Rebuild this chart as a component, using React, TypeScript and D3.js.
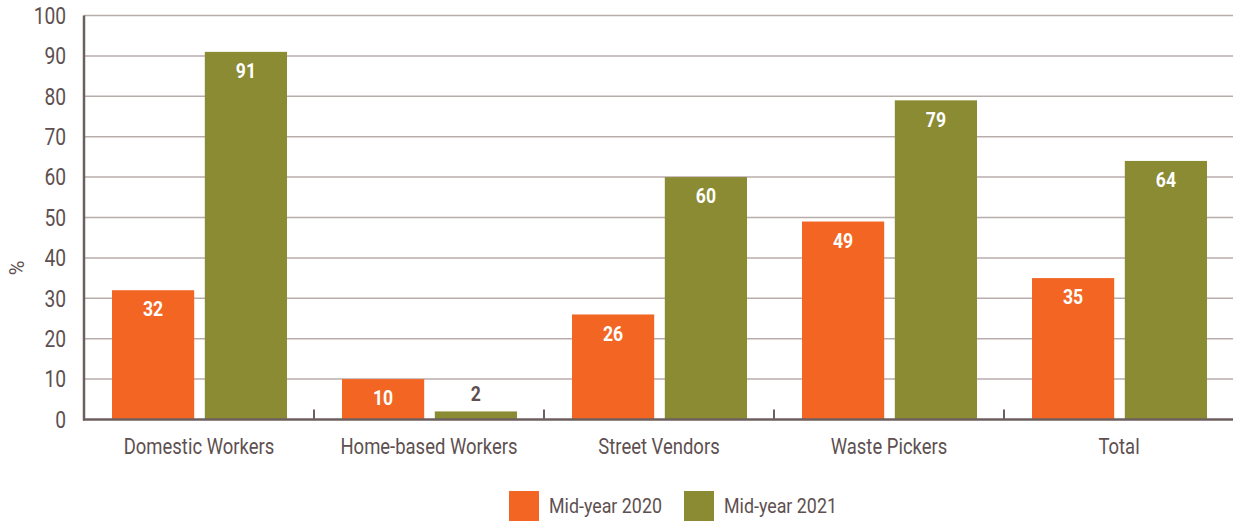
import * as d3 from "d3";

const categories = [
  "Domestic Workers",
  "Home-based Workers",
  "Street Vendors",
  "Waste Pickers",
  "Total",
];
const seriesNames = ["Mid-year 2020", "Mid-year 2021"];
const values2020 = [32, 10, 26, 49, 35];
const values2021 = [91, 2, 60, 79, 64];
const yTicks = [0, 10, 20, 30, 40, 50, 60, 70, 80, 90, 100];
const colors = ["#f26522", "#8b8b33"];

const width = 1233;
const height = 521;
const marginLeft = 84;
const marginRight = -1;
const marginTop = 15.5;
const baseY = 419.5;

const textColor = "#5e5050";
const axisColor = "#6e5f5f";
const gridColor = "#b9adab";
const font = "Roboto, sans-serif";

// narrow text: the original uses a condensed face
function Label({ x, y, sx, anchor = "middle", size, bold = false, fill = textColor, children }) {
  return (
    <text
      transform={`translate(${x},${y}) scale(${sx},1)`}
      textAnchor={anchor}
      dominantBaseline="middle"
      fontSize={size}
      fontWeight={bold ? "bold" : "normal"}
      fill={fill}
    >
      {children}
    </text>
  );
}

export default function App() {
  const x = d3
    .scaleBand()
    .domain(categories)
    .range([marginLeft, width - marginRight])
    .paddingInner(0)
    .paddingOuter(0);

  const y = d3.scaleLinear().domain([0, 100]).range([baseY, marginTop]);

  const inner = d3
    .scaleBand()
    .domain(seriesNames)
    .range([28, x.bandwidth() - 27])
    .paddingInner((10 / 175) * 2);

  const series = [values2020, values2021];

  return (
    <svg
      width={width}
      height={height}
      style={{ position: "absolute", left: 0, top: 0, fontFamily: font }}
    >
      {/* grid */}
      {yTicks.slice(1).map((t) => (
        <line
          key={t}
          x1={marginLeft}
          x2={width}
          y1={y(t)}
          y2={y(t)}
          stroke={gridColor}
          strokeWidth={1.5}
        />
      ))}
      {/* y tick labels */}
      {yTicks.map((t) => (
        <Label key={t} x={66} y={y(t) + 2} sx={0.8} anchor="end" size={24}>
          {t}
        </Label>
      ))}
      <text
        transform={`translate(24,268) rotate(-90)`}
        textAnchor="middle"
        fontSize={20}
        fill={textColor}
      >
        %
      </text>

      {/* bars */}
      {series.map((vals, si) =>
        vals.map((v, i) => {
          const bx = (x(categories[i]) ?? 0) + (inner(seriesNames[si]) ?? 0);
          const bw = inner.bandwidth();
          const top = y(v);
          const inside = baseY - top > 30;
          return (
            <g key={`${si}-${i}`}>
              <rect
                x={bx}
                y={top}
                width={bw}
                height={baseY - top}
                fill={colors[si]}
              />
              <Label
                x={bx + bw / 2}
                y={inside ? top + 21 : top - 16}
                sx={0.88}
                size={20}
                bold
                fill={inside ? "#ffffff" : textColor}
              >
                {v}
              </Label>
            </g>
          );
        })
      )}

      {/* axes */}
      <line
        x1={marginLeft}
        x2={marginLeft}
        y1={marginTop}
        y2={baseY + 1}
        stroke={axisColor}
        strokeWidth={2.5}
      />
      <line
        x1={marginLeft - 1}
        x2={width}
        y1={baseY}
        y2={baseY}
        stroke={axisColor}
        strokeWidth={2.5}
      />
      {categories.slice(1).map((c) => (
        <line
          key={c}
          x1={x(c)}
          x2={x(c)}
          y1={baseY}
          y2={baseY - 10}
          stroke={axisColor}
          strokeWidth={2}
        />
      ))}
      {categories.map((c) => (
        <Label key={c} x={(x(c) ?? 0) + x.bandwidth() / 2} y={448} sx={0.84} size={22}>
          {c}
        </Label>
      ))}

      {/* legend */}
      {seriesNames.map((s, i) => {
        const lx = i === 0 ? 509 : 684;
        return (
          <g key={s}>
            <rect x={lx} y={491} width={30} height={30} fill={colors[i]} />
            <Label x={lx + 40} y={507} sx={0.85} anchor="start" size={21}>
              {s}
            </Label>
          </g>
        );
      })}
    </svg>
  );
}
